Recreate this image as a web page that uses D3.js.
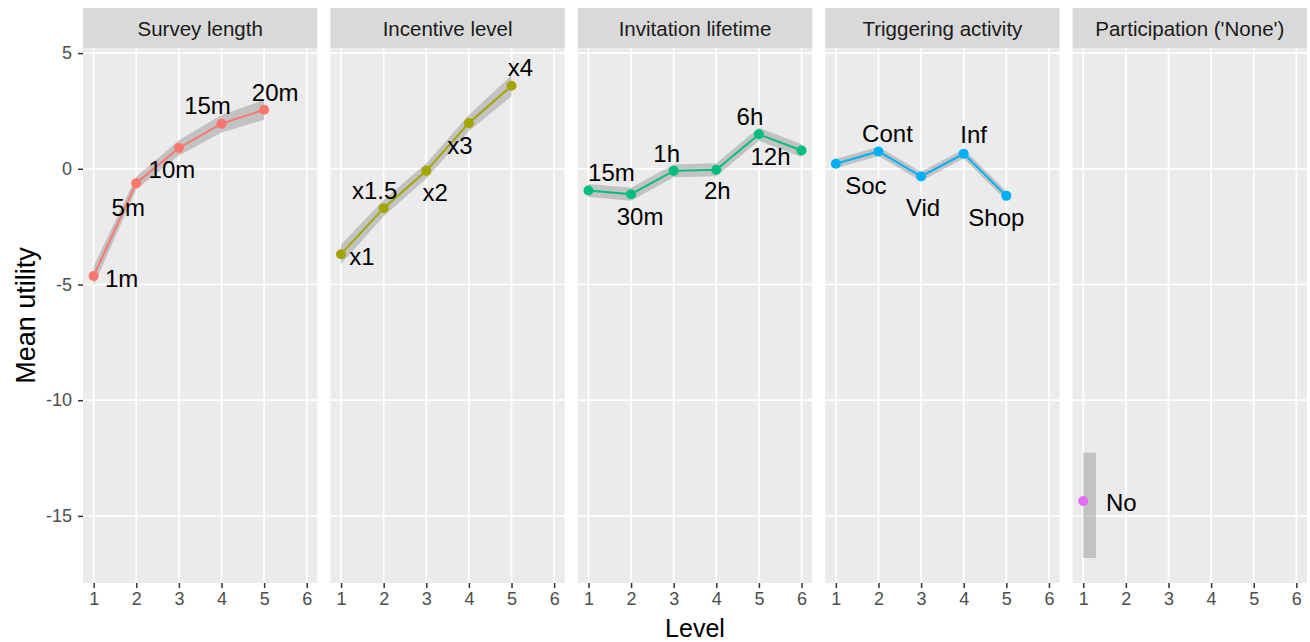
<!DOCTYPE html>
<html>
<head>
<meta charset="utf-8">
<script src="https://cdn.jsdelivr.net/npm/d3@7"></script>
<style>
  body { margin: 0; background: #fff; }
  text { font-family: "Liberation Sans", Arial, sans-serif; }
</style>
</head>
<body>
<svg id="chart" width="1310" height="642"></svg>
<script>
// ---- data: mean part-worth utilities with confidence band per attribute level ----
const facetTitles = ["Survey length", "Incentive level", "Invitation lifetime", "Triggering activity", "Participation ('None')"];
const facetColors = ["#F8766D", "#A3A500", "#00BF7D", "#00B0F6", "#E76BF3"];

const surveyLabels = ["1m", "5m", "10m", "15m", "20m"];
const surveyMean   = [-4.63, -0.62, 0.90, 1.95, 2.55];
const surveyLow    = [-5.05, -0.90, 0.57, 1.57, 2.12];
const surveyHigh   = [-4.21, -0.34, 1.23, 2.33, 2.98];

const incentiveLabels = ["x1", "x1.5", "x2", "x3", "x4"];
const incentiveMean   = [-3.69, -1.70, -0.09, 1.98, 3.59];
const incentiveLow    = [-4.11, -2.05, -0.42, 1.63, 3.14];
const incentiveHigh   = [-3.27, -1.35, 0.24, 2.33, 4.04];

const lifetimeLabels = ["15m", "30m", "1h", "2h", "6h", "12h"];
const lifetimeMean   = [-0.94, -1.10, -0.09, -0.04, 1.49, 0.79];
const lifetimeLow    = [-1.22, -1.38, -0.37, -0.32, 1.21, 0.51];
const lifetimeHigh   = [-0.66, -0.82, 0.19, 0.24, 1.77, 1.07];

const activityLabels = ["Soc", "Cont", "Vid", "Inf", "Shop"];
const activityMean   = [0.22, 0.75, -0.33, 0.65, -1.17];
const activityLow    = [0.02, 0.55, -0.53, 0.45, -1.37];
const activityHigh   = [0.42, 0.95, -0.13, 0.85, -0.97];

const noneLabels = ["No"];
const noneMean   = [-14.36];
const noneLow    = [-16.82];
const noneHigh   = [-12.27];

const xTicks = [1, 2, 3, 4, 5, 6];
const yTicks = [5, 0, -5, -10, -15];

// label placement (pixel offsets of each label centre from its point)
const labelOffsets = [
  [[28, 3], [-8, 24], [-7, 22], [-14, -18], [11, -17]],
  [[21, 2], [-9, -18], [9, 22], [-9, 23], [9, -18]],
  [[23, -18], [9, 22], [-7, -17], [1, 21], [-9, -18], [-31, 6]],
  [[30, 22], [9, -18], [2, 31], [10, -19], [-10, 22]],
  [[38, 1]]
];

const series = [
  { labels: surveyLabels, mean: surveyMean, low: surveyLow, high: surveyHigh },
  { labels: incentiveLabels, mean: incentiveMean, low: incentiveLow, high: incentiveHigh },
  { labels: lifetimeLabels, mean: lifetimeMean, low: lifetimeLow, high: lifetimeHigh },
  { labels: activityLabels, mean: activityMean, low: activityLow, high: activityHigh },
  { labels: noneLabels, mean: noneMean, low: noneLow, high: noneHigh }
];

// ---- layout ----
const svg = d3.select("#chart");
const plotLeft = 83, plotRight = 1307, gap = 13;
const stripTop = 8, stripBottom = 48, panelBottom = 583;
const panelW = (plotRight - plotLeft - gap * (facetTitles.length - 1)) / facetTitles.length;

const y = d3.scaleLinear().domain([-17.9, 5.22]).range([panelBottom, stripBottom]);
const x = d3.scaleLinear().domain([0.75, 6.25]).range([0, panelW]);

const tickColor = "#333333", tickText = "#4d4d4d";
const hyphenInt = d => String(d);

series.forEach((s, i) => {
  const g = svg.append("g").attr("transform", `translate(${plotLeft + i * (panelW + gap)},0)`);

  // panel background
  g.append("rect").attr("x", 0).attr("y", stripBottom).attr("width", panelW)
    .attr("height", panelBottom - stripBottom).attr("fill", "#ebebeb");

  // grid
  g.selectAll("line.gy").data(yTicks).join("line")
    .attr("x1", 0).attr("x2", panelW).attr("y1", d => y(d)).attr("y2", d => y(d))
    .attr("stroke", "#fff").attr("stroke-width", 1.7);
  g.selectAll("line.gx").data(xTicks).join("line")
    .attr("y1", stripBottom).attr("y2", panelBottom).attr("x1", d => x(d)).attr("x2", d => x(d))
    .attr("stroke", "#fff").attr("stroke-width", 1.7);

  // strip
  g.append("rect").attr("x", 0).attr("y", stripTop).attr("width", panelW)
    .attr("height", stripBottom - stripTop).attr("fill", "#d9d9d9");
  g.append("text").attr("x", panelW / 2).attr("y", (stripTop + stripBottom) / 2)
    .attr("text-anchor", "middle").attr("dominant-baseline", "central")
    .attr("font-size", 20.5).attr("fill", "#1a1a1a").text(facetTitles[i]);

  const pts = s.mean.map((m, k) => ({ lvl: k + 1, m, lo: s.low[k], hi: s.high[k], lab: s.labels[k], off: labelOffsets[i][k] }));

  // confidence band
  if (pts.length > 1) {
    const area = d3.area().x(d => x(d.lvl)).y0(d => y(d.lo)).y1(d => y(d.hi));
    g.append("path").datum(pts).attr("d", area).attr("fill", "#999999").attr("fill-opacity", 0.5);
  } else {
    const bandWidth = 0.3;
    g.append("rect").attr("x", x(pts[0].lvl)).attr("width", x(pts[0].lvl + bandWidth) - x(pts[0].lvl))
      .attr("y", y(pts[0].hi)).attr("height", y(pts[0].lo) - y(pts[0].hi))
      .attr("fill", "#999999").attr("fill-opacity", 0.5);
  }

  // line + points
  const line = d3.line().x(d => x(d.lvl)).y(d => y(d.m));
  g.append("path").datum(pts).attr("d", line).attr("fill", "none")
    .attr("stroke", facetColors[i]).attr("stroke-width", 2);
  g.selectAll("circle").data(pts).join("circle")
    .attr("cx", d => x(d.lvl)).attr("cy", d => y(d.m)).attr("r", 5).attr("fill", facetColors[i]);

  // level labels
  g.selectAll("text.lab").data(pts).join("text").attr("class", "lab")
    .attr("x", d => x(d.lvl) + d.off[0]).attr("y", d => y(d.m) + d.off[1])
    .attr("text-anchor", "middle").attr("dominant-baseline", "central")
    .attr("font-size", 24).attr("fill", "#000").text(d => d.lab);

  // x axis
  const xa = g.append("g").attr("transform", `translate(0,${panelBottom})`)
    .call(d3.axisBottom(x).tickValues(xTicks).tickSize(5).tickPadding(4).tickFormat(hyphenInt));
  xa.select(".domain").remove();
  xa.selectAll("line").attr("stroke", tickColor).attr("stroke-width", 1.5);
  xa.selectAll("text").attr("font-size", 18).attr("fill", tickText).attr("font-family", null);

  // y axis on the first panel
  if (i === 0) {
    const ya = g.append("g").call(d3.axisLeft(y).tickValues(yTicks).tickSize(5).tickPadding(6).tickFormat(hyphenInt));
    ya.select(".domain").remove();
    ya.selectAll("line").attr("stroke", tickColor).attr("stroke-width", 1.5);
    ya.selectAll("text").attr("font-size", 18).attr("fill", tickText).attr("font-family", null);
  }
});

// axis titles
svg.append("text").attr("x", (plotLeft + plotRight) / 2).attr("y", 637)
  .attr("text-anchor", "middle").attr("font-size", 25).attr("fill", "#000").text("Level");
svg.append("text").attr("transform", `translate(35,${(stripBottom + panelBottom) / 2}) rotate(-90)`)
  .attr("text-anchor", "middle").attr("font-size", 27).attr("fill", "#000").text("Mean utility");
</script>
</body>
</html>
